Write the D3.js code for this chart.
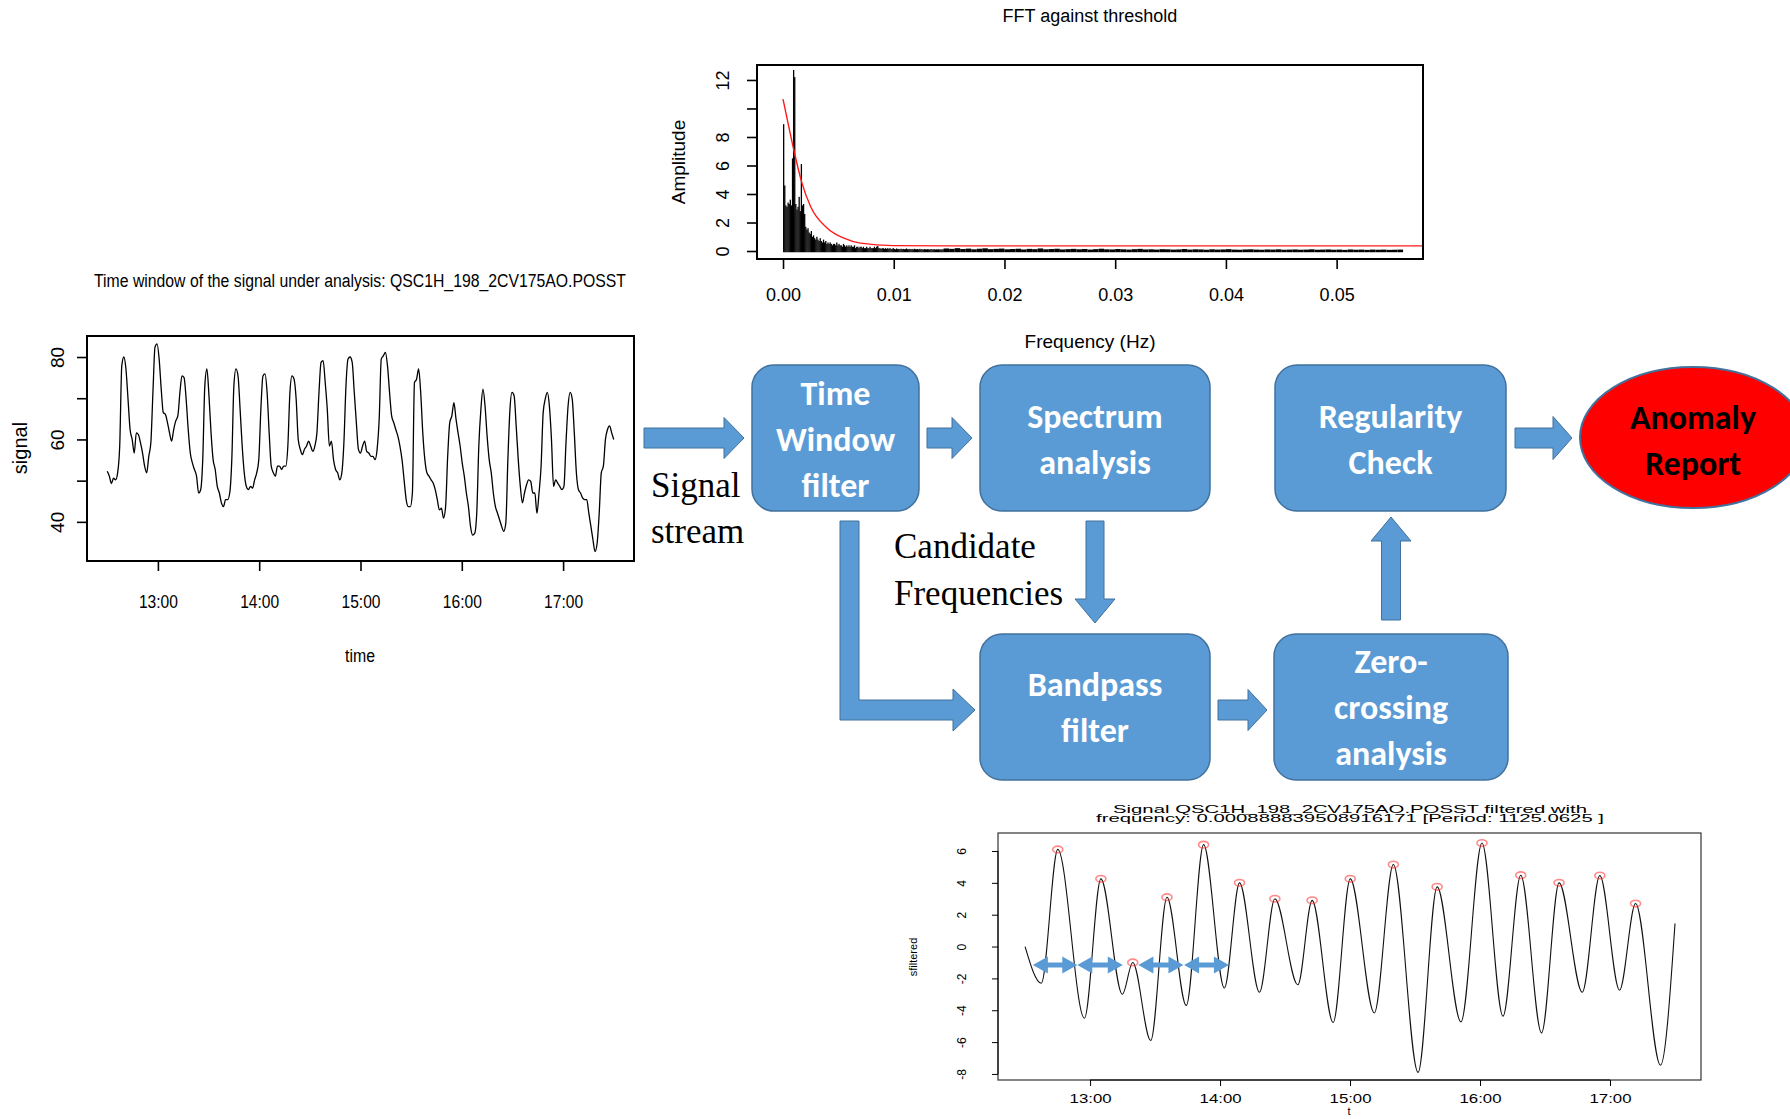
<!DOCTYPE html>
<html>
<head>
<meta charset="utf-8">
<script src="https://cdn.jsdelivr.net/npm/d3@7"></script>
<style>
  body { margin: 0; background: #fff; }
  svg { display: block; }
</style>
</head>
<body>
<div id="chart"></div>
<script>
// ---------------- data ----------------
// FFT spectrum, fine bins from 0 Hz
const fftStep = 0.0001;
const fftAmp = [
  8.9, 4.6, 3.2, 3.1, 3.4, 3.3, 3.6, 3.2, 6.5, 12.7,
  12.2, 3.3, 2.9, 3.1, 3.8, 2.8, 6.1, 3.2, 3.3, 2.6,
  1.7, 1.5, 1.6, 1.3, 1.2, 1.4, 1.0, 1.1, 0.9, 0.8,
  1.0, 0.8, 0.7, 0.9, 0.7, 0.6, 0.8, 0.6, 0.7, 0.5,
  0.6, 0.5, 0.6, 0.5, 0.4, 0.5, 0.5, 0.4, 0.6, 0.4,
  0.5, 0.4, 0.4, 0.3, 0.5, 0.4, 0.3, 0.4, 0.3, 0.4,
  0.3, 0.4, 0.3, 0.3, 0.4, 0.2, 0.3, 0.3, 0.2, 0.3,
  0.3, 0.2, 0.3, 0.2, 0.2, 0.3, 0.2, 0.2, 0.3, 0.2,
  0.2, 0.2, 0.3, 0.2, 0.3, 0.35, 0.2, 0.2, 0.15, 0.2,
  0.2, 0.15, 0.2, 0.15, 0.2, 0.15, 0.2, 0.15, 0.15, 0.2,
  0.15, 0.12, 0.18, 0.14, 0.15, 0.12, 0.16, 0.13, 0.15, 0.12,
  0.14, 0.18, 0.12, 0.13, 0.15, 0.12, 0.14, 0.11, 0.16, 0.13,
  0.12, 0.14, 0.11, 0.15, 0.12, 0.13, 0.1, 0.14, 0.12, 0.11,
  0.13, 0.12, 0.1, 0.14, 0.11, 0.12, 0.13, 0.1, 0.12, 0.11,
  0.13, 0.1, 0.12, 0.11, 0.12
];
// FFT spectrum tail, coarser bins
const fftTailStart = 0.0145;
const fftTailStep = 0.0005;
const fftTail = [
  0.18, 0.15, 0.2, 0.14, 0.17, 0.12, 0.16, 0.19, 0.13, 0.15,
  0.17, 0.12, 0.14, 0.16, 0.11, 0.15, 0.13, 0.18, 0.12, 0.14,
  0.16, 0.11, 0.13, 0.15, 0.12, 0.14, 0.1, 0.13, 0.16, 0.12,
  0.11, 0.14, 0.12, 0.1, 0.13, 0.15, 0.11, 0.12, 0.1, 0.13,
  0.12, 0.1, 0.11, 0.14, 0.1, 0.12, 0.11, 0.09, 0.12, 0.1,
  0.11, 0.13, 0.1, 0.09, 0.11, 0.12, 0.1, 0.09, 0.11, 0.1,
  0.12, 0.09, 0.1, 0.11, 0.09, 0.1, 0.12, 0.09, 0.1, 0.11,
  0.09, 0.1, 0.08, 0.11, 0.09, 0.1, 0.08, 0.1, 0.09, 0.1,
  0.08, 0.09, 0.1
];
// threshold curve (red)
const thresholdFreq = [0, 0.0005, 0.001, 0.0017, 0.0025, 0.004, 0.0055, 0.007, 0.01, 0.015, 0.03, 0.0585];
const thresholdAmp  = [10.65, 8.8, 7.0, 4.8, 3.1, 1.6, 0.9, 0.55, 0.38, 0.36, 0.36, 0.36];
const fftXTicks = [0, 0.01, 0.02, 0.03, 0.04, 0.05];
const fftYTicks = [0, 2, 4, 6, 8, 10, 12];
const fftYLabelled = [0, 2, 4, 6, 8, 12];

// raw signal in the time window (evenly sampled between start and end)
const signalStart = "12:30";
const signalEnd = "17:30";
const signalValues = [
  52.3, 51.1, 49.3, 50.6, 50.2, 51.9, 58.4, 77.9, 80, 77.1, 69.8, 62.4, 60, 56.7, 61.6, 61.2, 59.2, 56.7, 53.5, 51.9,
  55.9, 59.2, 71.4, 82.4, 83.2, 79.5, 72.2, 66.5, 66.1, 64.1, 61.6, 59.6, 62.4, 64.5, 65.7, 71.4, 75.4, 75, 69.8, 62.4,
  56.7, 54.3, 52.7, 51.1, 47, 47.8, 55.1, 73, 77.1, 70.6, 61.6, 55.1, 52.7, 48.6, 47, 44.6, 43.7, 45.4, 45.4, 47,
  55.1, 73, 77.1, 75.4, 67.3, 58.4, 51.9, 48.6, 47.8, 48.6, 48.2, 50.2, 51.9, 55.1, 67.3, 75.4, 75.9, 71.4, 61.6, 53.5,
  51.9, 51.1, 53.5, 53.5, 52.7, 53.5, 53.5, 58.4, 71.4, 75.4, 74.6, 69.8, 60, 57.6, 56.3, 57.6, 58.4, 59.6, 58.4, 57.1,
  58.4, 61.6, 71.4, 78.7, 79.1, 73.8, 67.3, 58.4, 59.6, 55.1, 52.7, 51.9, 50.2, 51.9, 59.2, 73, 79.5, 80, 78.7, 71.4,
  64.1, 57.6, 56.7, 58.4, 59.6, 57.1, 56.7, 55.9, 55.9, 55.1, 57.6, 64.9, 79.5, 80.3, 81.1, 77.9, 71.4, 65.7, 64.1, 62.4,
  60.8, 58.4, 55.1, 50.2, 45.4, 43.7, 43.7, 47, 73.8, 74.6, 77.1, 71.4, 61.6, 55.1, 51.9, 51.1, 50.2, 49.4, 47.8, 45.4,
  42.9, 43.3, 40.9, 43.7, 55.9, 64.1, 65.7, 68.9, 65, 61.6, 58.4, 54.3, 51.1, 47, 43.7, 38.9, 36.8, 37.2, 42.1, 58.4,
  67.3, 72.2, 68.1, 60.8, 55.1, 51.9, 47, 43.7, 42.1, 40.5, 38.9, 37.7, 39.7, 55.1, 67.3, 71.4, 70.6, 63.3, 55.1, 48.6,
  44.6, 47, 49, 50.2, 49.8, 47, 47, 42.1, 47, 53.5, 66.5, 69.8, 71.4, 68.1, 60, 48.6, 50.2, 49.4, 48.6, 47.8,
  48.6, 59.2, 68.1, 71.4, 69.8, 61.6, 51.9, 47.8, 47, 45.8, 45.4, 45.4, 42.1, 38.9, 35.6, 32.8, 34.8, 42.1, 51.9, 53.5,
  60, 62.4, 63.3, 61.6, 60
];
const signalYTicks = [40, 50, 60, 70, 80];
const signalYLabelled = [40, 60, 80];
const hourTicks = ["13:00", "14:00", "15:00", "16:00", "17:00"];

// band-pass filtered signal: turning points (minutes after 12:00, value)
const filteredMinutes = [30, 37.5, 45.1, 57.4, 65.0, 74.9, 79.7, 88.0, 95.5, 104.4, 112.4, 122.0, 129.0, 138.2, 145.3, 155.9, 162.5, 172.2,
  180.1, 191.2, 200.0, 211.4, 220.2, 231.2, 240.9, 250.6, 258.8, 268.4, 276.5, 287.2, 295.3, 304.4, 311.8, 323.3, 330];
const filteredValues = [0, -2.3, 6.1, -4.5, 4.25, -3.0, -1.0, -5.9, 3.1, -3.7, 6.4, -2.6, 4.0, -2.87, 3.0, -2.4, 2.9, -4.77,
  4.25, -4.17, 5.15, -7.9, 3.75, -4.73, 6.5, -4.37, 4.48, -5.42, 4.0, -2.87, 4.46, -2.74, 2.7, -7.45, 1.45];
const peakMinutes = [45.1, 65.0, 79.7, 95.5, 112.4, 129.0, 145.3, 162.5, 180.1, 200.0, 220.2, 240.9, 258.8, 276.5, 295.3, 311.8];
const peakValues = [6.1, 4.25, -1.0, 3.1, 6.4, 4.0, 3.0, 2.9, 4.25, 5.15, 3.75, 6.5, 4.48, 4.0, 4.46, 2.7];
const periodStartMin = [33.6, 54.1, 82.3, 103.4];
const periodEndMin = [54.1, 75.1, 103.1, 124.1];
const periodLevel = -1.16;
const filteredYTicks = [-8, -6, -4, -2, 0, 2, 4, 6];

// flowchart labels
const boxLabels = {
  tw: ["Time", "Window", "filter"],
  spec: ["Spectrum", "analysis"],
  reg: ["Regularity", "Check"],
  band: ["Bandpass", "filter"],
  zero: ["Zero-", "crossing", "analysis"]
};

// ---------------- drawing ----------------
const W = 1790, H = 1119;
const sans = "'Liberation Sans', Arial, sans-serif";
const calib = "Carlito, Lato, 'Open Sans', sans-serif";
const serif = "'Liberation Serif', 'Times New Roman', serif";
const blue = "#5B9BD5", blueEdge = "#41719C";

const svg = d3.select("#chart").append("svg").attr("width", W).attr("height", H);
svg.append("rect").attr("width", W).attr("height", H).attr("fill", "#fff");
const defs = svg.append("defs");

const noon = new Date(2017, 0, 1, 12, 0).getTime();
const atMin = m => new Date(noon + m * 60000);
const atHM = s => { const [h, m] = s.split(":").map(Number); return atMin((h - 12) * 60 + m); };

// squeeze or stretch a text to a given width
const fit = (sel, len) => sel.attr("textLength", len).attr("lengthAdjust", "spacingAndGlyphs");

// R style axis: ticks outward, axis line only between first and last tick
function rAxis(g, orient, scale, pos, ticks, opt) {
  const axis = (orient === "bottom" ? d3.axisBottom(scale) : d3.axisLeft(scale))
    .tickValues(ticks).tickSizeOuter(0).tickSize(opt.tick).tickPadding(opt.pad)
    .tickFormat(opt.fmt);
  const a = g.append("g")
    .attr("transform", orient === "bottom" ? `translate(0,${pos})` : `translate(${pos},0)`)
    .call(axis);
  a.attr("font-family", opt.font).attr("font-size", opt.size);
  a.select(".domain").remove();
  a.selectAll(".tick line").attr("stroke", "#000").attr("stroke-width", opt.lw);
  a.selectAll(".tick text").attr("fill", "#000");
  const ends = d3.extent(ticks.map(t => scale(t)));
  if (orient === "bottom") {
    a.append("line").attr("x1", ends[0]).attr("x2", ends[1]).attr("stroke", "#000").attr("stroke-width", opt.lw);
  } else {
    a.append("line").attr("y1", ends[0]).attr("y2", ends[1]).attr("stroke", "#000").attr("stroke-width", opt.lw);
    a.selectAll(".tick text")
      .attr("x", null).attr("dy", "0.35em").attr("text-anchor", "middle")
      .attr("transform", `translate(${-opt.off},0) rotate(-90)`);
  }
  if (opt.textLength) fit(a.selectAll(".tick text"), opt.textLength);
  return a;
}

// ---- FFT panel ----
const fb = { left: 757, right: 1423, top: 65, bottom: 259 };
const fx = d3.scaleLinear().domain([-0.00235, 0.0578]).range([fb.left, fb.right]);
const fy = d3.scaleLinear().domain([-0.56, 13.05]).range([fb.bottom, fb.top]);
const gF = svg.append("g");
defs.append("clipPath").attr("id", "clipF").append("rect")
  .attr("x", fb.left).attr("y", fb.top).attr("width", fb.right - fb.left).attr("height", fb.bottom - fb.top);

const bins = fftAmp.map((v, i) => ({ f: i * fftStep, w: fftStep, v }))
  .concat(fftTail.map((v, i) => ({ f: fftTailStart + i * fftTailStep, w: fftTailStep, v })));
gF.append("g").selectAll("rect").data(bins).join("rect")
  .attr("x", d => fx(d.f))
  .attr("width", d => Math.max(1.3, fx(d.f + d.w) - fx(d.f)))
  .attr("y", d => fy(d.v))
  .attr("height", d => fy(0) - fy(d.v) + 1.2)
  .attr("fill", "#000");

const thr = thresholdFreq.map((f, i) => [f, thresholdAmp[i]]);
gF.append("path").datum(thr)
  .attr("clip-path", "url(#clipF)")
  .attr("d", d3.line().x(d => fx(d[0])).y(d => fy(d[1])).curve(d3.curveMonotoneX))
  .attr("fill", "none").attr("stroke", "#ff1a1a").attr("stroke-width", 1.4);

gF.append("rect").attr("x", fb.left).attr("y", fb.top)
  .attr("width", fb.right - fb.left).attr("height", fb.bottom - fb.top)
  .attr("fill", "none").attr("stroke", "#000").attr("stroke-width", 2);

rAxis(gF, "bottom", fx, fb.bottom, fftXTicks, { tick: 10, pad: 19, fmt: d3.format(".2f"), font: sans, size: 18, lw: 1.6 });
rAxis(gF, "left", fy, fb.left, fftYTicks, {
  tick: 10, pad: 0, off: 34, font: sans, size: 18, lw: 1.6,
  fmt: d => fftYLabelled.includes(d) ? d : ""
});
gF.append("text").attr("x", 1090).attr("y", 22).attr("text-anchor", "middle")
  .attr("font-family", sans).attr("font-size", 18).text("FFT against threshold");
gF.append("text").attr("x", 1090).attr("y", 348).attr("text-anchor", "middle")
  .attr("font-family", sans).attr("font-size", 19).text("Frequency (Hz)");
gF.append("text").attr("transform", "translate(678,162) rotate(-90)").attr("dy", "0.35em")
  .attr("text-anchor", "middle").attr("font-family", sans).attr("font-size", 19).text("Amplitude");

// ---- raw signal panel ----
const sb = { left: 87, right: 634, top: 336, bottom: 561 };
const sx = d3.scaleTime().domain([atMin(18), atMin(342)]).range([sb.left, sb.right]);
const sy = d3.scaleLinear().domain([30.5, 85.1]).range([sb.bottom, sb.top]);
const gS = svg.append("g");
const t0 = atHM(signalStart).getTime(), t1 = atHM(signalEnd).getTime();
const sigPts = signalValues.map((v, i) => [new Date(t0 + (t1 - t0) * i / (signalValues.length - 1)), v]);
gS.append("path").datum(sigPts)
  .attr("d", d3.line().x(d => sx(d[0])).y(d => sy(d[1])).curve(d3.curveMonotoneX))
  .attr("fill", "none").attr("stroke", "#000").attr("stroke-width", 1.3);
gS.append("rect").attr("x", sb.left).attr("y", sb.top)
  .attr("width", sb.right - sb.left).attr("height", sb.bottom - sb.top)
  .attr("fill", "none").attr("stroke", "#000").attr("stroke-width", 2);
rAxis(gS, "bottom", sx, sb.bottom, hourTicks.map(atHM), {
  tick: 10, pad: 24, fmt: d3.timeFormat("%H:%M"), font: sans, size: 18, lw: 1.6, textLength: 39
});
rAxis(gS, "left", sy, sb.left, signalYTicks, {
  tick: 10, pad: 0, off: 30, font: sans, size: 19, lw: 1.6,
  fmt: d => signalYLabelled.includes(d) ? d : ""
});
fit(gS.append("text").attr("x", 360).attr("y", 287).attr("text-anchor", "middle")
  .attr("font-family", sans).attr("font-size", 18)
  .text("Time window of the signal under analysis: QSC1H_198_2CV175AO.POSST"), 532);
fit(gS.append("text").attr("x", 360).attr("y", 662).attr("text-anchor", "middle")
  .attr("font-family", sans).attr("font-size", 18).text("time"), 30);
gS.append("text").attr("transform", "translate(20,448) rotate(-90)").attr("dy", "0.35em")
  .attr("text-anchor", "middle").attr("font-family", sans).attr("font-size", 20).text("signal");

// ---- filtered signal panel ----
const bb = { left: 998, right: 1701, top: 833, bottom: 1080 };
const bx = d3.scaleTime().domain([atMin(17.5), atMin(342)]).range([bb.left, bb.right]);
const by = d3.scaleLinear().domain([-8.38, 7.13]).range([bb.bottom, bb.top]);
const gB = svg.append("g");
const filtPts = filteredMinutes.map((m, i) => [atMin(m), filteredValues[i]]);
gB.append("path").datum(filtPts)
  .attr("d", d3.line().x(d => bx(d[0])).y(d => by(d[1])).curve(d3.curveMonotoneX))
  .attr("fill", "none").attr("stroke", "#111").attr("stroke-width", 1.1);
gB.append("g").selectAll("ellipse").data(peakMinutes.map((m, i) => [atMin(m), peakValues[i]])).join("ellipse")
  .attr("cx", d => bx(d[0])).attr("cy", d => by(d[1]))
  .attr("rx", 5).attr("ry", 3.3)
  .attr("fill", "none").attr("stroke", "rgba(255,40,40,0.55)").attr("stroke-width", 1.6);

// double headed period arrows
function doubleArrow(x0, x1, y) {
  const s = 2.6, h = 8.5, hl = 15;
  return `M${x0},${y} L${x0 + hl},${y - h} L${x0 + hl},${y - s} L${x1 - hl},${y - s} L${x1 - hl},${y - h} L${x1},${y}
    L${x1 - hl},${y + h} L${x1 - hl},${y + s} L${x0 + hl},${y + s} L${x0 + hl},${y + h} Z`;
}
gB.append("g").selectAll("path").data(periodStartMin.map((m, i) => [m, periodEndMin[i]])).join("path")
  .attr("d", d => doubleArrow(bx(atMin(d[0])), bx(atMin(d[1])), by(periodLevel)))
  .attr("fill", blue);

gB.append("rect").attr("x", bb.left).attr("y", bb.top)
  .attr("width", bb.right - bb.left).attr("height", bb.bottom - bb.top)
  .attr("fill", "none").attr("stroke", "#333").attr("stroke-width", 1.2);
rAxis(gB, "bottom", bx, bb.bottom, hourTicks.map(atHM), {
  tick: 6, pad: 8, fmt: d3.timeFormat("%H:%M"), font: sans, size: 12, lw: 1, textLength: 42
});
rAxis(gB, "left", by, bb.left, filteredYTicks, { tick: 6, pad: 0, off: 36, font: sans, size: 12, lw: 1, fmt: d => d });
fit(gB.append("text").attr("x", 1350).attr("y", 813).attr("text-anchor", "middle")
  .attr("font-family", sans).attr("font-size", 11)
  .text("Signal QSC1H_198_2CV175AO.POSST filtered with"), 474);
fit(gB.append("text").attr("x", 1350).attr("y", 822).attr("text-anchor", "middle")
  .attr("font-family", sans).attr("font-size", 11)
  .text("frequency: 0.000888839508916171 [Period: 1125.0625 ]"), 508);
gB.append("text").attr("x", 1349).attr("y", 1115).attr("text-anchor", "middle")
  .attr("font-family", sans).attr("font-size", 11).text("t");
gB.append("text").attr("transform", "translate(913,957) rotate(-90)").attr("dy", "0.35em")
  .attr("text-anchor", "middle").attr("font-family", sans).attr("font-size", 11).text("sfiltered");

// ---- flowchart ----
const gC = svg.append("g");
function blockArrow(x0, y0, x1, y1, shaft, head, hl) {
  const len = Math.hypot(x1 - x0, y1 - y0);
  const ang = Math.atan2(y1 - y0, x1 - x0) * 180 / Math.PI;
  const s = shaft / 2, h = head / 2;
  const pts = [[0, -s], [len - hl, -s], [len - hl, -h], [len, 0], [len - hl, h], [len - hl, s], [0, s]];
  gC.append("polygon").attr("points", pts.map(p => p.join(",")).join(" "))
    .attr("transform", `translate(${x0},${y0}) rotate(${ang})`)
    .attr("fill", blue).attr("stroke", blueEdge).attr("stroke-width", 1);
}
blockArrow(644, 438, 744, 438, 20, 41, 20);
blockArrow(927, 438, 972, 438, 20, 41, 20);
blockArrow(1095, 521, 1095, 623, 18, 40, 24);
blockArrow(1218, 710, 1267, 710, 20, 41, 19);
blockArrow(1391, 620, 1391, 517, 19, 40, 24);
blockArrow(1515, 438, 1572, 438, 20, 43, 19);
// L shaped arrow from the time window down to the bandpass filter
gC.append("polygon")
  .attr("points", [[840, 521], [859, 521], [859, 700], [953, 700], [953, 689], [975, 710], [953, 731], [953, 720], [840, 720]]
    .map(p => p.join(",")).join(" "))
  .attr("fill", blue).attr("stroke", blueEdge).attr("stroke-width", 1);

const boxLayout = [
  { key: "tw", x: 752, y: 365, w: 167, h: 146, base: [405, 451, 497] },
  { key: "spec", x: 980, y: 365, w: 230, h: 146, base: [428, 474] },
  { key: "reg", x: 1275, y: 365, w: 231, h: 146, base: [428, 474] },
  { key: "band", x: 980, y: 634, w: 230, h: 146, base: [696, 742] },
  { key: "zero", x: 1274, y: 634, w: 234, h: 146, base: [673, 719, 765] }
];
boxLayout.forEach(b => {
  gC.append("rect").attr("x", b.x).attr("y", b.y).attr("width", b.w).attr("height", b.h)
    .attr("rx", 22).attr("fill", blue).attr("stroke", blueEdge).attr("stroke-width", 1.5);
  boxLabels[b.key].forEach((t, i) => {
    gC.append("text").attr("x", b.x + b.w / 2).attr("y", b.base[i]).attr("text-anchor", "middle")
      .attr("font-family", calib).attr("font-weight", "bold").attr("font-size", 34)
      .attr("fill", "#fff").text(t);
  });
});
gC.append("ellipse").attr("cx", 1693).attr("cy", 437.5).attr("rx", 113).attr("ry", 70.5)
  .attr("fill", "#ff0000").attr("stroke", blueEdge).attr("stroke-width", 2);
[["Anomaly", 429], ["Report", 475]].forEach(([t, y]) => {
  gC.append("text").attr("x", 1693).attr("y", y).attr("text-anchor", "middle")
    .attr("font-family", calib).attr("font-weight", "bold").attr("font-size", 34).attr("fill", "#000").text(t);
});
[["Signal", 651, 497], ["stream", 651, 543], ["Candidate", 894, 558], ["Frequencies", 894, 605]].forEach(([t, x, y]) => {
  gC.append("text").attr("x", x).attr("y", y).attr("font-family", serif).attr("font-size", 35)
    .attr("fill", "#000").text(t);
});
</script>
</body>
</html>
